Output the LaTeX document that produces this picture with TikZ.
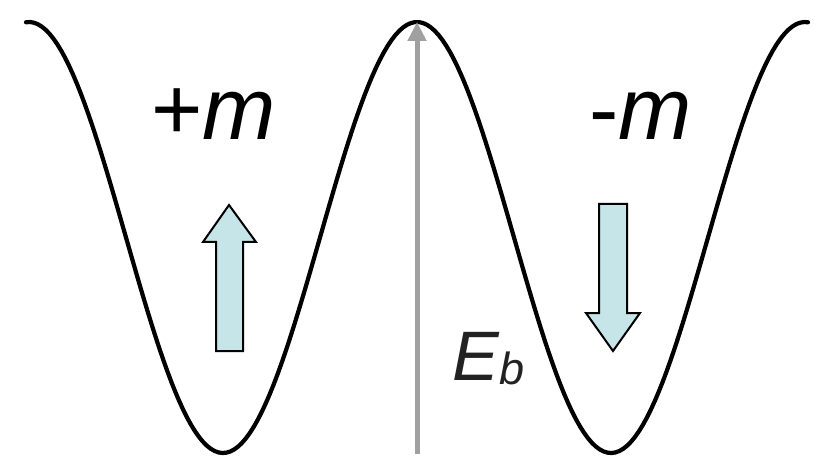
\documentclass[tikz,border=0pt]{standalone}
\usepackage{fontspec}
\setmainfont{Liberation Sans}
\usetikzlibrary{arrows.meta}
\definecolor{spincyan}{RGB}{198,229,233}
\definecolor{barriergray}{RGB}{160,160,160}
\definecolor{labelgray}{RGB}{34,34,34}

\begin{document}
\begin{tikzpicture}[x=1pt, y=-1pt,
    well/.style={line width=4.2pt, black, line cap=round},
    spinarrow/.style={draw=black, line width=2pt, fill=spincyan, line join=miter},
    barrier/.style={line width=5pt, barriergray, -{Triangle[length=19pt, width=18pt]}},
    biglabel/.style={font=\fontsize{88}{88}\selectfont, anchor=base west, inner sep=0pt}
]
\useasboundingbox (0,0) rectangle (815,468);

% double well potential
\draw[well] plot[domain=26:808, samples=200] (\x, {237.5 + 215.5*cos(0.927835*(\x-223))});

% barrier height
\coordinate (barrierbase) at (417,454);
\coordinate (barriertop) at (417,22);
\draw[barrier] (barrierbase) -- (barriertop);
\node (eb) [anchor=base west, inner sep=0pt, text=labelgray, font=\fontsize{70}{70}\selectfont] at (452,380) {\textit{E}\raisebox{-4pt}{\fontsize{45}{45}\selectfont\textit{b}}};

% magnetisation labels
\node (plusm) [biglabel] at (151,140) {+\textit{m}};
\node (minusm) [biglabel] at (589,140) {-\textit{m}};

% spin up
\draw[spinarrow] (216,351) -- (216,242) -- (203,242) -- (229,205) -- (256,242) -- (243,242) -- (243,351) -- cycle;
% spin down
\draw[spinarrow] (599,204) -- (599,313) -- (586,313) -- (613,351) -- (640,313) -- (627,313) -- (627,204) -- cycle;

\end{tikzpicture}
\end{document}
